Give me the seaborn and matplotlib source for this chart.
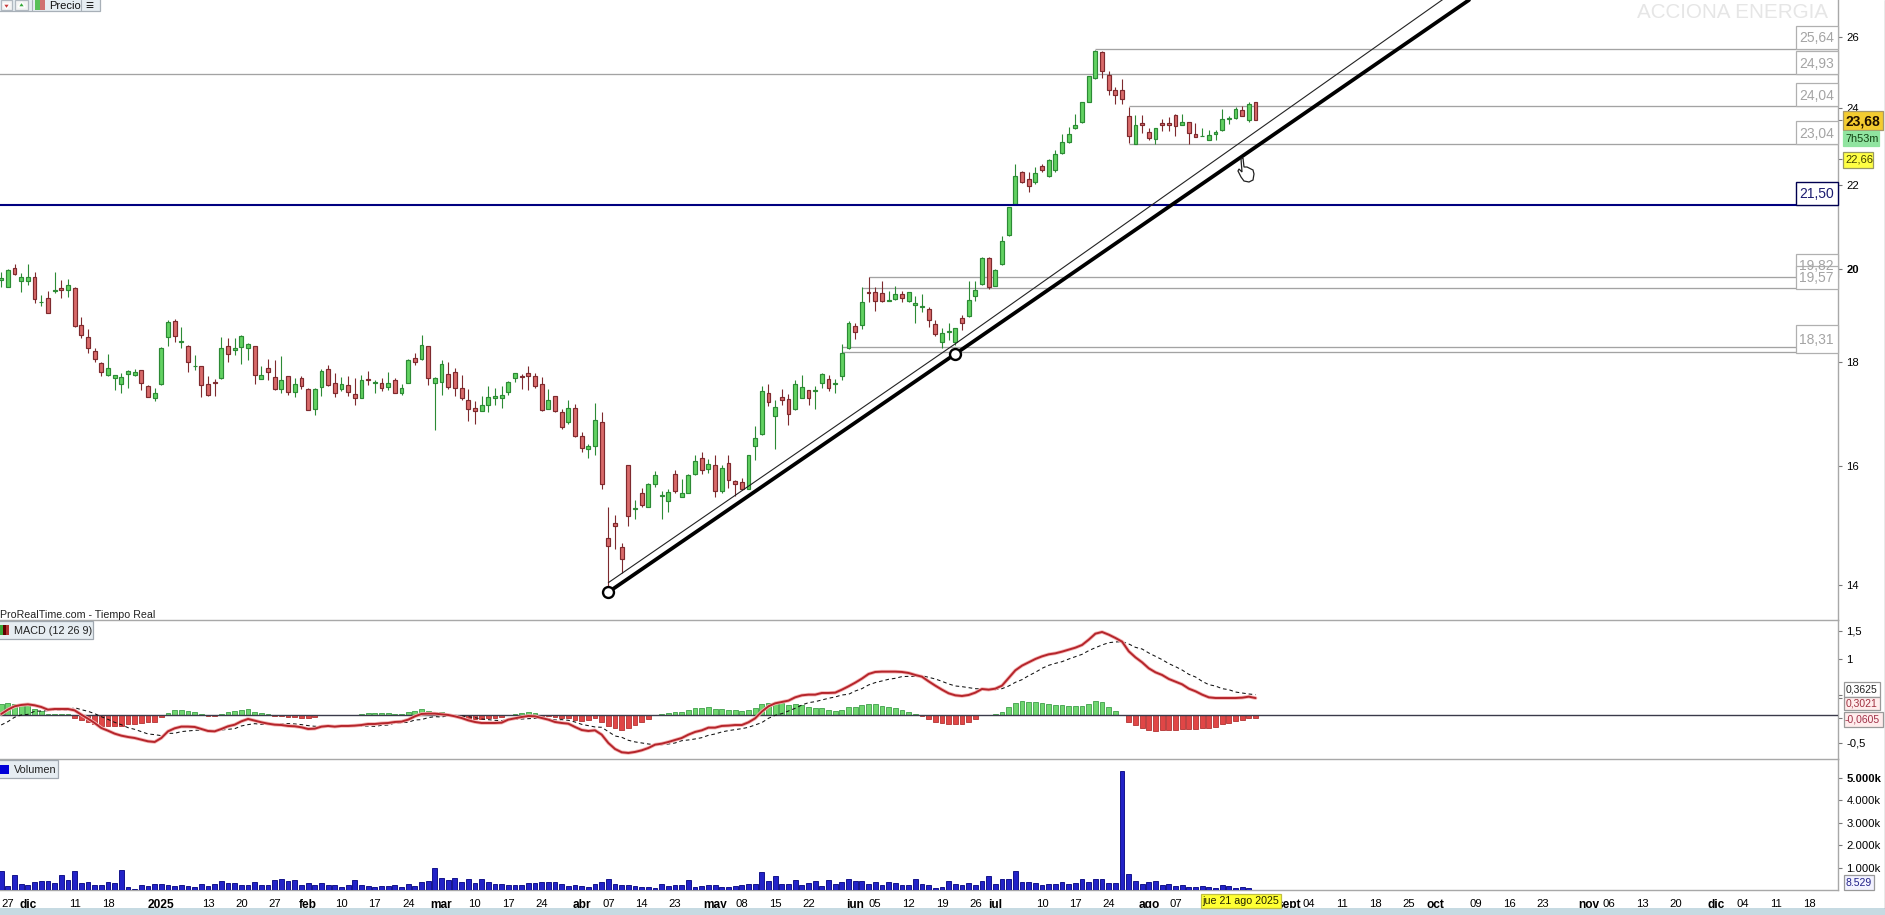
import numpy as np
import pandas as pd
import matplotlib
matplotlib.use("Agg")
import matplotlib.pyplot as plt
from matplotlib.patches import Rectangle, Polygon
from matplotlib.ticker import NullLocator, FixedLocator, FixedFormatter
import seaborn as sns

# ---------- price data (one entry per trading session) ----------
opens = [19.75,19.60,20.02,19.73,19.73,19.82,19.26,19.36,19.52,19.58,
 19.53,19.58,18.77,18.53,18.23,17.98,17.74,17.68,17.56,17.76,
 17.74,17.84,17.52,17.28,17.56,18.52,18.86,18.41,18.34,17.92,
 17.92,17.57,17.60,17.68,18.33,18.25,18.31,18.29,18.33,17.67,
 17.88,17.70,17.46,17.72,17.41,17.68,17.47,17.08,17.50,17.86,
 17.58,17.47,17.54,17.36,17.28,17.66,17.58,17.59,17.50,17.64,
 17.39,17.59,18.09,18.06,18.33,17.58,17.60,17.76,17.80,17.49,
 17.24,17.09,17.04,17.15,17.28,17.28,17.41,17.68,17.72,17.78,
 17.72,17.57,17.08,17.32,17.02,16.82,17.09,16.56,16.32,16.37,
 16.82,14.75,15.01,14.60,16.03,15.24,15.53,15.29,15.68,15.48,
 15.39,15.86,15.46,15.53,15.86,16.15,15.95,16.03,15.56,16.06,
 15.74,15.72,15.60,16.37,16.60,17.39,16.93,17.31,17.27,17.07,
 17.29,17.45,17.42,17.58,17.66,17.56,17.72,18.29,18.75,18.78,
 19.49,19.48,19.46,19.29,19.33,19.44,19.28,19.20,19.17,19.11,
 18.79,18.42,18.62,18.41,18.92,18.97,19.39,19.66,20.26,19.63,
 20.11,20.78,21.52,22.33,22.15,22.08,22.47,22.21,22.36,22.80,
 23.08,23.47,23.63,24.17,24.83,25.57,24.92,24.48,24.48,23.77,
 23.04,23.58,23.36,23.16,23.58,23.58,23.81,23.53,23.61,23.29,
 23.24,23.15,23.29,23.40,23.71,23.73,23.93,23.66,24.15]
highs = [19.93,20.0,20.11,19.91,20.11,19.93,19.43,19.50,19.93,19.75,
 19.78,19.60,18.94,18.68,18.29,18.01,18.17,17.75,17.78,17.84,
 17.86,17.85,17.54,17.48,18.31,18.89,18.90,18.73,18.35,18.15,
 17.93,17.73,17.66,18.52,18.50,18.50,18.57,18.39,18.33,17.93,
 18.06,18.05,18.13,17.73,17.68,17.73,17.48,17.48,17.86,17.94,
 17.78,17.71,17.73,17.68,17.75,17.83,17.65,17.68,17.81,17.68,
 17.56,18.06,18.19,18.57,18.33,17.71,18.04,18.01,17.88,17.75,
 17.47,17.22,17.33,17.53,17.48,17.53,17.62,17.79,17.76,17.93,
 17.78,17.70,17.46,17.33,17.07,17.25,17.17,16.63,16.41,17.18,
 17.01,15.29,15.14,14.67,16.03,15.41,15.62,15.71,15.91,15.56,
 15.59,15.93,15.77,15.86,16.20,16.27,16.14,16.21,16.02,16.20,
 15.75,15.80,16.21,16.75,17.53,17.57,17.24,17.47,17.36,17.64,
 17.75,17.45,17.53,17.78,17.75,17.66,18.38,18.85,18.81,19.59,
 19.82,19.59,19.73,19.50,19.61,19.50,19.49,19.39,19.44,19.16,
 18.88,18.72,18.81,18.72,18.98,19.73,19.73,20.27,20.27,19.99,
 20.75,21.46,22.52,22.34,22.31,22.45,22.52,22.65,22.87,23.30,
 23.48,23.83,24.17,24.88,25.62,25.58,25.01,24.57,24.79,24.03,
 23.80,23.80,23.47,23.45,23.71,23.76,23.82,23.84,23.62,23.59,
 23.45,23.41,23.40,23.98,23.78,24.01,24.05,24.15,24.15]
lows = [19.59,19.60,19.87,19.48,19.65,19.25,19.19,19.03,19.47,19.36,
 19.38,18.74,18.51,18.19,18.00,17.73,17.73,17.45,17.38,17.48,
 17.73,17.44,17.30,17.22,17.55,18.33,18.42,18.30,17.81,17.84,
 17.30,17.32,17.32,17.67,18.01,18.15,17.97,18.04,17.57,17.66,
 17.65,17.45,17.39,17.34,17.30,17.47,17.05,16.95,17.32,17.53,
 17.31,17.43,17.33,17.16,17.28,17.55,17.39,17.43,17.45,17.38,
 17.34,17.59,17.94,18.04,17.55,16.67,17.35,17.47,17.32,17.24,
 16.85,16.78,17.03,17.01,17.15,17.10,17.35,17.61,17.47,17.45,
 17.48,17.03,17.07,17.01,16.69,16.78,16.55,16.26,16.16,16.20,
 15.59,13.89,14.58,14.19,14.95,15.08,15.29,15.28,15.64,15.08,
 15.19,15.53,15.45,15.52,15.84,15.86,15.88,15.46,15.53,15.62,
 15.48,15.58,15.59,16.11,16.58,17.14,16.32,17.16,16.76,17.05,
 17.28,17.16,17.07,17.49,17.42,17.38,17.64,18.28,18.47,18.70,
 19.27,19.08,19.26,19.28,19.31,19.26,19.27,18.81,19.06,18.74,
 18.55,18.29,18.46,18.36,18.67,18.95,19.30,19.65,19.56,19.62,
 20.10,20.77,21.51,22.04,21.83,22.01,22.32,22.20,22.33,22.78,
 23.07,23.44,23.58,24.16,24.79,24.81,24.36,24.11,24.11,23.06,
 23.04,23.32,23.13,23.04,23.39,23.39,23.25,23.53,23.05,23.21,
 23.24,23.15,23.15,23.39,23.57,23.69,23.78,23.63,23.67]
closes = [19.80,19.97,19.89,19.82,19.82,19.34,19.27,19.04,19.53,19.53,
 19.65,18.76,18.57,18.29,18.06,17.80,17.88,17.74,17.70,17.82,
 17.80,17.58,17.30,17.38,18.29,18.83,18.55,18.43,18.00,17.93,
 17.54,17.35,17.58,18.29,18.17,18.29,18.54,18.38,17.74,17.74,
 17.80,17.46,17.64,17.40,17.56,17.53,17.06,17.46,17.82,17.54,
 17.38,17.56,17.41,17.28,17.64,17.64,17.60,17.48,17.59,17.39,
 17.48,18.04,18.00,18.35,17.68,17.68,17.96,17.51,17.48,17.28,
 17.08,17.03,17.15,17.30,17.32,17.34,17.61,17.78,17.70,17.73,
 17.53,17.05,17.24,17.03,16.72,17.09,16.56,16.33,16.38,16.86,
 15.68,14.62,14.96,14.41,15.12,15.26,15.31,15.69,15.84,15.50,
 15.55,15.56,15.53,15.84,16.10,15.93,16.05,15.56,15.97,15.75,
 15.68,15.59,16.21,16.52,17.43,17.21,17.12,17.24,16.97,17.56,
 17.50,17.28,17.44,17.77,17.49,17.58,18.19,18.82,18.62,19.27,
 19.46,19.30,19.30,19.31,19.44,19.36,19.49,19.25,19.19,18.88,
 18.59,18.61,18.64,18.72,18.82,19.31,19.54,20.26,19.59,19.98,
 20.64,21.45,22.23,22.08,21.98,22.30,22.36,22.62,22.79,23.08,
 23.30,23.53,24.15,24.87,25.58,25.03,24.48,24.34,24.25,23.24,
 23.53,23.55,23.20,23.45,23.55,23.55,23.51,23.61,23.32,23.22,
 23.25,23.27,23.36,23.69,23.73,23.96,23.79,24.09,23.68]

# ---------- MACD ----------
macd_line = [.018,.095,.155,.179,.190,.173,.143,.095,.107,.107,.107,.083,.006,-.065,-.143,-.232,-.280,-.333,-.369,-.393,
 -.411,-.440,-.470,-.482,-.411,-.292,-.238,-.208,-.208,-.214,-.250,-.286,-.292,-.250,-.202,-.173,-.113,-.071,-.101,-.131,
 -.155,-.173,-.179,-.196,-.202,-.220,-.250,-.244,-.208,-.196,-.208,-.196,-.196,-.190,-.179,-.161,-.161,-.149,-.143,-.125,
 -.119,-.083,-.024,.018,.024,.024,.012,0,-.024,-.054,-.095,-.125,-.143,-.143,-.143,-.137,-.083,-.060,-.036,-.018,
 -.024,-.054,-.083,-.125,-.143,-.155,-.214,-.268,-.286,-.274,-.351,-.500,-.607,-.666,-.678,-.660,
 -.631,-.589,-.530,-.512,-.482,-.446,-.411,-.351,-.303,-.274,-.226,-.226,-.196,-.190,-.179,-.179,-.131,-.060,.060,.155,
 .208,.232,.256,.315,.351,.363,.363,.393,.393,.399,.452,.512,.577,.649,.732,.768,.774,.774,.774,.768,
 .750,.714,.684,.601,.524,.452,.387,.351,.339,.357,.399,.464,.452,.470,.524,.660,.797,.881,.940,1.000,
 1.047,1.083,1.101,1.131,1.166,1.202,1.250,1.345,1.452,1.482,1.434,1.375,1.309,1.137,1.029,.940,.833,.762,.714,.643,
 .595,.547,.470,.423,.363,.315,.303,.303,.303,.303,.309,.327,.3021]
macd_signal = [-.178,-.119,-.041,0,.011,.066,.072,.077,.089,.089,.089,.131,.095,.066,.024,-.030,-.078,-.131,-.173,-.226,
 -.256,-.297,-.339,-.351,-.369,-.328,-.327,-.297,-.285,-.274,-.268,-.274,-.280,-.268,-.256,-.244,-.196,-.172,-.155,-.167,
 -.167,-.155,-.161,-.154,-.160,-.172,-.190,-.202,-.202,-.190,-.202,-.190,-.190,-.190,-.197,-.197,-.203,-.185,-.179,-.143,
 -.137,-.131,-.089,-.083,-.047,-.030,-.036,-.012,-.006,-.018,-.030,-.048,-.072,-.083,-.095,-.101,-.083,-.078,-.072,-.066,
 -.060,-.042,-.065,-.089,-.083,-.095,-.125,-.167,-.191,-.214,-.220,-.298,-.375,-.398,-.452,-.481,
 -.500,-.518,-.530,-.530,-.518,-.500,-.459,-.446,-.428,-.405,-.363,-.339,-.303,-.279,-.262,-.244,-.220,-.179,-.136,-.059,
 -.006,.024,.072,.119,.178,.220,.238,.268,.298,.322,.357,.369,.428,.470,.536,.578,.607,.637,.655,.685,
 .690,.690,.702,.672,.643,.601,.554,.518,.506,.488,.470,.464,.452,.452,.470,.517,.583,.631,.702,.762,
 .833,.887,.922,.952,.999,1.041,1.083,1.149,1.202,1.250,1.291,1.304,1.309,1.268,1.208,1.178,1.107,1.048,.988,.917,
 .863,.803,.726,.679,.601,.541,.517,.470,.452,.410,.392,.375,.3625]
macd_hist = [.196,.214,.196,.179,.179,.107,.071,.018,.018,.018,.018,-.048,-.089,-.131,-.167,-.202,-.202,-.202,-.196,-.167,
 -.155,-.143,-.131,-.131,-.042,.036,.089,.089,.077,.060,.018,-.012,-.012,.018,.054,.071,.083,.101,.054,.036,
 .012,-.018,-.018,-.042,-.042,-.048,-.060,-.042,-.006,-.006,-.006,-.006,-.006,0,.018,.036,.042,.036,.036,.018,
 .018,.048,.065,.101,.071,.054,.048,.012,-.018,-.036,-.065,-.077,-.071,-.060,-.048,-.036,0,.018,.036,.048,
 .036,-.012,-.018,-.036,-.060,-.060,-.089,-.101,-.095,-.060,-.131,-.202,-.232,-.268,-.226,-.179,
 -.131,-.071,0,.018,.036,.054,.048,.095,.125,.131,.137,.113,.107,.089,.083,.065,.089,.119,.196,.214,
 .214,.208,.184,.196,.173,.143,.125,.125,.095,.077,.095,.143,.149,.179,.196,.190,.167,.137,.119,.083,
 .060,.024,-.018,-.071,-.119,-.149,-.167,-.167,-.167,-.131,-.071,0,0,.018,.054,.143,.214,.250,.238,.238,
 .214,.196,.179,.179,.167,.161,.167,.196,.250,.232,.143,.071,0,-.131,-.179,-.238,-.274,-.286,-.274,-.274,
 -.268,-.256,-.256,-.256,-.238,-.226,-.214,-.167,-.149,-.107,-.083,-.048,-.0605]

# ---------- volume, thousands of shares ----------
volume_k = [840,180,650,265,205,340,400,400,310,650,440,825,310,350,205,220,340,295,880,130,
 30,220,175,250,250,220,190,220,190,130,250,175,265,400,310,310,220,220,350,205,
 220,425,485,400,440,220,310,220,310,220,220,150,205,440,220,175,130,175,175,220,
 130,265,175,350,400,970,530,440,530,350,485,310,485,350,265,265,220,220,220,310,
 310,350,350,350,250,175,220,175,130,250,350,485,265,220,220,175,
 130,130,90,250,175,205,205,440,130,175,220,220,130,130,175,220,265,265,795,400,
 620,265,265,440,220,310,400,175,440,265,350,485,400,400,265,350,220,350,310,220,
 220,485,265,220,90,130,400,265,220,310,220,400,620,265,485,485,840,350,350,310,
 220,265,265,350,265,310,485,350,485,485,310,310,5280,705,400,265,350,400,205,250,
 160,220,130,130,175,130,90,220,160,90,130,90,8.5]

# ---------- horizontal levels and trend lines ----------
level_values = [25.64, 24.93, 24.04, 23.04, 19.82, 19.57, 18.31, 18.21]
level_start_bar = [164, -1, 169, 169, 130, 129, 126, 126]
level_labels = ["25,64", "24,93", "24,04", "23,04", "19,82", "19,57", "18,31"]
support_level = 21.50
trend_bars = [91, 143, 220]
trend_thick = [13.88, 18.17, 27.11]
trend_thin = [14.03, 18.38, 27.7]
anchor_bars = [91, 143]
anchor_prices = [13.88, 18.17]

# ---------- axis ticks ----------
tick_bars = [1,4,11,16,24,31,36,41,46,51,56,61,66,71,76,81,87,91,96,101,107,111,116,121,128,131,136,141,146,149,
             156,161,166,172,176,193,196,201,206,211,215,221,226,231,238,241,246,251,257,261,266,271]
tick_labels = ["27","dic","11","18","2025","13","20","27","feb","10","17","24","mar","10","17","24","abr","07","14","23",
               "may","08","15","22","jun","05","12","19","26","jul","10","17","24","ago","07","sept","04","11","18","25",
               "oct","09","16","23","nov","06","13","20","dic","04","11","18"]
bold_ticks = {"dic","2025","feb","mar","abr","may","jun","jul","ago","sept","oct","nov"}
price_ticks = [14,16,18,20,22,24,26]
macd_ticks = [1.5,1.0,-0.5]
macd_tick_labels = ["1,5","1","-0,5"]
vol_ticks = [1000,2000,3000,4000,5000]
vol_tick_labels = ["1.000k","2.000k","3.000k","4.000k","5.000k"]

# ---------- theme ----------
sns.set_theme(style="white")
plt.rcParams["font.family"] = ["Liberation Sans", "DejaVu Sans"]

W, H = 1885, 915
fig = plt.figure(figsize=(W/100, H/100), dpi=100, facecolor="white")
def pane(top, bottom, right=1838):
    return fig.add_axes([0, 1-bottom/H, right/W, (bottom-top)/H])
ax_p = pane(0, 620)
ax_m = pane(620, 759)
ax_v = pane(759, 890)

bars = np.arange(len(closes))
df = pd.DataFrame(dict(bar=bars, o=opens, h=highs, l=lows, c=closes, macd=macd_line,
                       signal=macd_signal, hist=macd_hist, vol=volume_k))
XLIM = (-0.18, 275.3)
GRID = "#a8a8a8"

# ---------- candles ----------
up = df[df.c >= df.o]
dn = df[df.c < df.o]
for part, fill, edge in ((up, "#62d262", "#2c8a35"), (dn, "#d96a6a", "#7e2a2e")):
    ax_p.vlines(part.bar, part.l, part.h, color=edge, lw=0.8, zorder=3)
    ax_p.bar(part.bar, (part.c-part.o).abs().clip(lower=0.012), bottom=part[["o","c"]].min(axis=1),
             width=0.58, color=fill, edgecolor=edge, linewidth=0.85, zorder=4)

ax_p.set_yscale("log")
ax_p.set_ylim(13.45, 27.11)
ax_p.set_xlim(*XLIM)

for val, start in zip(level_values, level_start_bar):
    ax_p.hlines(val, start, XLIM[1], color="#a3a3a3", lw=0.95, zorder=2)
ax_p.hlines(support_level, XLIM[0], XLIM[1], color="#000080", lw=1.5, zorder=5)

sns.lineplot(x=trend_bars, y=trend_thick, ax=ax_p, color="black", lw=2.7, errorbar=None, zorder=6, legend=False)
sns.lineplot(x=trend_bars, y=trend_thin, ax=ax_p, color="#222222", lw=0.8, errorbar=None, zorder=6, legend=False)
sns.scatterplot(x=anchor_bars, y=anchor_prices, ax=ax_p, s=62, color="white", edgecolor="black",
                linewidth=1.7, zorder=7, legend=False)

# ---------- MACD ----------
pos = df[df["hist"] >= 0]
neg = df[df["hist"] < 0]
sns.barplot(data=pos, x="bar", y="hist", native_scale=True, ax=ax_m, color="#6fd66f", saturation=1,
            width=0.72, edgecolor="#3f9f4a", linewidth=0.6, zorder=2)
sns.barplot(data=neg, x="bar", y="hist", native_scale=True, ax=ax_m, color="#e04646", saturation=1,
            width=0.72, edgecolor="#b23434", linewidth=0.6, zorder=2)
ax_m.hlines(0, XLIM[0], XLIM[1], color="#3a3a4a", lw=1.0, zorder=3)
sns.lineplot(data=df, x="bar", y="signal", ax=ax_m, color="#111111", lw=0.75, linestyle=(0, (3.5, 2.8)),
             errorbar=None, zorder=4)
sns.lineplot(data=df, x="bar", y="macd", ax=ax_m, color="#f5b5b5", lw=2.6, errorbar=None, zorder=5)
sns.lineplot(data=df, x="bar", y="macd", ax=ax_m, color="#b5252b", lw=1.4, errorbar=None, zorder=6)
ax_m.set_xlim(*XLIM)
ax_m.set_ylim(-0.786, 1.696)

# ---------- volume ----------
sns.barplot(data=df, x="bar", y="vol", native_scale=True, ax=ax_v, color="#2222c8", saturation=1,
            width=0.72, edgecolor="#00007e", linewidth=0.6, zorder=3)
ax_v.set_xlim(*XLIM)
ax_v.set_ylim(0, 5823)

# ---------- axes dressing ----------
TICK = dict(length=3, width=0.8, color="#777777", pad=3, labelcolor="black", labelsize=8.1)
for ax in (ax_p, ax_m, ax_v):
    ax.set_xlabel(""); ax.set_ylabel("")
    ax.set_facecolor("none")
    ax.yaxis.tick_right()
    ax.yaxis.set_minor_locator(NullLocator())
    ax.xaxis.set_minor_locator(NullLocator())
    ax.tick_params(axis="y", **TICK)
    ax.spines["left"].set_visible(False)
    ax.spines["top"].set_visible(False)
    for s in ("right", "bottom"):
        ax.spines[s].set_color(GRID)
        ax.spines[s].set_linewidth(1.0)
for ax in (ax_p, ax_m):
    ax.xaxis.set_major_locator(FixedLocator([]))

ax_p.yaxis.set_major_locator(FixedLocator(price_ticks + [23.68, 22.66]))
ax_p.yaxis.set_major_formatter(FixedFormatter([str(t) for t in price_ticks] + ["", ""]))
for lab in ax_p.get_yticklabels():
    if lab.get_text() == "20":
        lab.set_fontweight("bold")
ax_m.yaxis.set_major_locator(FixedLocator(macd_ticks + [0.3625, 0.3021, -0.0605]))
ax_m.yaxis.set_major_formatter(FixedFormatter(macd_tick_labels + ["", "", ""]))
ax_v.yaxis.set_major_locator(FixedLocator(vol_ticks))
ax_v.yaxis.set_major_formatter(FixedFormatter(vol_tick_labels))
for lab in ax_v.get_yticklabels():
    if lab.get_text() == "5.000k":
        lab.set_fontweight("bold")
ax_v.xaxis.set_major_locator(FixedLocator(tick_bars))
ax_v.xaxis.set_major_formatter(FixedFormatter(tick_labels))
ax_v.tick_params(axis="x", length=3, width=0.8, color="#777777", pad=3.5, labelsize=8.1, labelcolor="black")
for lab in ax_v.get_xticklabels():
    if lab.get_text() in bold_ticks:
        lab.set_fontweight("bold")
        lab.set_fontsize(8.6)

# ---------- overlay for labels, boxes and toolbars (pixel space) ----------
ov = fig.add_axes([0, 0, 1, 1], zorder=20)
ov.set_xlim(0, W); ov.set_ylim(H, 0); ov.axis("off"); ov.patch.set_alpha(0)
def box(x0, y0, x1, y1, fc="white", ec="#a8a8a8", lw=0.9, z=1):
    ov.add_patch(Rectangle((x0, y0), x1-x0, y1-y0, facecolor=fc, edgecolor=ec, linewidth=lw, zorder=z))
def label(x, y, s, size=8, color="black", weight="normal", ha="left", z=3):
    ov.text(x, y, s, fontsize=size, color=color, fontweight=weight, ha=ha, va="center", zorder=z)

ov.text(1828, 12, "ACCIONA ENERGIA", fontsize=14.9, color="#e6e6e6", ha="right", va="center")

level_boxes = [(26, 49), (51, 74), (83, 106), (121, 144), (254, 277), (266, 289), (325, 353)]
for txt, (y0, y1) in zip(level_labels, level_boxes):
    box(1796, y0, 1838, y1, ec="#b0b0b0")
    label(1799.5, (y0+y1)/2 + 1, txt, size=10, color="#a4a4a4")
box(1796, 182, 1838, 205, ec="#000050", lw=1.0)
label(1799.5, 194.5, "21,50", size=10, color="#1c1c70")

box(1843, 111, 1883, 130, fc="#f4cc30", ec="#a89868")
label(1845, 121, "23,68", size=10, weight="bold", color="#201000")
box(1843, 131, 1879, 146, fc="#90e4a0", ec="#90e4a0")
label(1845, 139, "7h53m", size=7.8, color="#104010")
box(1843, 152, 1873, 168, fc="#ffff44", ec="#999966")
label(1845, 160, "22,66", size=8, color="#404000")

box(1844, 682, 1880, 697, fc="white", ec="#999999")
label(1846, 690, "0,3625", size=7.5, color="#222222")
box(1844, 697, 1880, 710, fc="#ffecec", ec="#999999")
label(1846, 704, "0,3021", size=7.5, color="#a03040")
box(1844, 712, 1883, 727, fc="#ffecec", ec="#999999")
label(1845, 720, "-0,0605", size=7.5, color="#a03048")
box(1844, 875, 1874, 890, fc="#f2f2ff", ec="#999999")
label(1846, 883, "8.529", size=7.5, color="#202088")

# date cursor box
box(1201, 894, 1281, 908, fc="#ffff33", ec="#c0c040", z=4)
ov.text(1241, 901.5, "jue 21 ago 2025", fontsize=7.7, ha="center", va="center", zorder=5, color="#222200")

# legends in the panes
box(-2, -2, 100, 11, fc="#e6edf2", ec="#a8b0b8")
box(1, 0, 12, 10, fc="#f4f4f4", ec="#b0b8c0"); box(15, 0, 28, 10, fc="#f4f4f4", ec="#b0b8c0")
ov.add_patch(Polygon([[3, 4], [10, 4], [6.5, 9]], facecolor="#c83a3a", zorder=3))
ov.add_patch(Polygon([[18, 7], [25, 7], [21.5, 2]], facecolor="#36a83a", zorder=3))
box(35, 0, 40, 10, fc="#58c058", ec="none"); box(40, 0, 45, 10, fc="#d07070", ec="none")
ov.plot([32, 32], [0, 11], color="#a8b0b8", lw=0.8); ov.plot([81, 81], [0, 11], color="#a8b0b8", lw=0.8)
label(49, 6, "Precio", size=8, color="#111111")
label(85.5, 6, "≡", size=10, color="#222222")

label(0, 614.5, "ProRealTime.com - Tiempo Real", size=7.7, color="#222222")
box(-2, 621, 93, 639, fc="#e6edf2", ec="#a0a8b0")
box(0, 625, 3, 635, fc="#3ca83c", ec="none"); box(3, 625, 6, 635, fc="#600000", ec="none"); box(6, 625, 9, 635, fc="#b03030", ec="none")
label(14, 631, "MACD (12 26 9)", size=7.8, color="#222222")
box(-2, 760, 58, 778, fc="#e6edf2", ec="#a0a8b0")
box(0, 765, 9, 774, fc="#0000d8", ec="none")
label(14, 770, "Volumen", size=7.8, color="#222222")

# bottom toolbar and right border
box(-2, 908, W+2, W, fc="#c6dae2", ec="none")
ov.plot([1884.5, 1884.5], [0, 908], color="#909090", lw=1)

# hand cursor
hand = [[1241,159],[1243,158],[1244,167],[1246,167],[1247,167],[1249,168],[1251,169],[1253,170],[1254,174],
        [1253,180],[1249,182],[1244,181],[1241,177],[1238,171],[1239,169],[1242,172]]
ov.add_patch(Polygon(hand, closed=True, facecolor="white", edgecolor="#222222", linewidth=0.9, zorder=6))

fig.savefig("out.png", dpi=100, facecolor="white")
